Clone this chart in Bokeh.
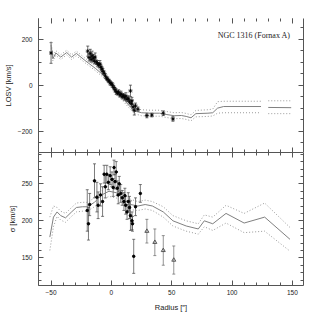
import math
from bokeh.plotting import figure
from bokeh.layouts import column
from bokeh.models import (FixedTicker, LinearAxis, Range1d, Whisker, ColumnDataSource,
                          TeeHead, Label, CustomJSTickFormatter)
from bokeh.embed import file_html
from bokeh.resources import INLINE

nan = float("nan")

# ---------------- data ----------------
# top panel: line-of-sight velocity, measured points
top_x = [-50, -19.6, -18.5, -17.5, -16.8, -16, -15, -14.2, -13.5, -12.5, -11.5, -10.5, -9.5,
         -8.7, -7.8, -7, -6, -5, -4, -3, -2, -1, 0, 1, 2, 3, 4, 5, 6, 7, 8, 9, 10, 11, 12,
         13, 14, 15, 15.8, 16.5, 17, 18, 19, 20, 22, 29.4, 33.5, 43, 51]
top_v = [140, 148, 120, 138, 112, 128, 118, 105, 122, 100, 95, 88, 92,
         79, 70, 60, 52, 40, 30, 25, 18, 10, 6, 0, -10, -20, -28, -35, -30, -42, -38, -50, -45, -55, -48,
         -62, -58, -72, -25, -80, -68, -95, -110, -90, -105, -132, -130, -122, -147]
top_e = [45, 22, 15, 18, 12, 20, 15, 12, 18, 10, 12, 10, 15,
         12, 10, 12, 10, 10, 8, 10, 8, 10, 8, 10, 8, 10, 12, 8, 10, 10, 12, 10, 8, 12, 15,
         10, 12, 10, 25, 12, 15, 12, 20, 12, 10, 10, 8, 10, 10]

# top panel: model band
tmod_x = [-50, -48.5, -46, -42, -37, -33, -29, -22, -13, -5, 2, 8, 14, 19, 25, 32, 40, 46, 52,
          58, 62, 66, 70, 80, 84, 88, 93, 124, 126.5, 130, 149]
tmod_mid = [175, 115, 140, 122, 142, 122, 138, 108, 72, 36, -18, -50, -85, -112, -120, -122, -122,
            -128, -133, -132, -136, -142, -124, -122, -120, -100, -93, -93, nan, -97, -98]
tmod_up = [190, 127, 150, 132, 152, 132, 148, 118, 82, 46, -8, -40, -75, -100, -107, -109, -109,
           -115, -120, -119, -123, -129, -110, -107, -104, -72, -70, -70, nan, -68, -68]
tmod_lo = [160, 105, 130, 112, 132, 112, 128, 98, 62, 26, -28, -60, -95, -124, -133, -135, -135,
           -141, -146, -145, -149, -155, -138, -136, -134, -122, -120, -120, nan, -124, -124]

# bottom panel: velocity dispersion, measured points
sig_x = [-20, -19, -18, -14, -12, -11, -9, -7.3, -6, -5, -3.8, -2.5, -1, 0.5, 1.5, 2.2, 3, 4,
         4.9, 5.7, 6.5, 7.7, 9, 10.4, 11.2, 11.8, 13, 14, 15, 15.8, 17.1, 17.5, 18.5, 20, 24]
sig_s = [214, 196, 222, 254, 232, 221, 235, 226, 263, 246, 263, 252, 261, 256, 245, 272, 253, 266,
         244, 235, 250, 237, 231, 226, 234, 221, 212, 226, 218, 207, 200, 196, 152, 219, 237]
sig_e = [28, 22, 15, 23, 20, 18, 15, 20, 12, 15, 12, 10, 12, 10, 12, 10, 10, 14,
         10, 12, 10, 12, 10, 12, 10, 12, 10, 12, 15, 20, 12, 10, 23, 12, 12]

# bottom panel: outer points (triangles)
tri_x = [29.4, 36, 43, 51.7]
tri_s = [186, 171, 160, 147]
tri_e = [16, 18, 20, 19]

# bottom panel: model band
bmod_x = [-51, -48, -45, -42, -38, -33, -29, -24, -20, -14, -8, -2, 4, 10, 16, 22, 28, 34, 43, 51,
          62, 72, 77, 84, 95, 110, 127, 148]
bmod_mid = [178, 205, 212, 207, 204, 212, 218, 219, 219, 225, 235, 240, 238, 230, 222, 220, 222,
            220, 212, 200, 193, 189, 200, 196, 210, 197, 205, 175]
bmod_up = [205, 220, 218, 213, 210, 218, 224, 225, 225, 231, 242, 247, 245, 237, 229, 226, 228,
           226, 219, 207, 200, 196, 208, 205, 221, 210, 224, 191]
bmod_lo = [160, 192, 206, 201, 198, 206, 212, 213, 213, 219, 228, 233, 231, 223, 215, 214, 216,
           214, 205, 193, 186, 182, 192, 187, 197, 184, 186, 159]

x_major = [-50, 0, 50, 100, 150]
x_minor = list(range(-60, 161, 10))
vy_major = [-200, 0, 200]
vy_minor = list(range(-300, 301, 50))
sy_major = [150, 200, 250]
sy_minor = list(range(110, 301, 10))

TITLE = "NGC 1316 (Fornax A)"
AX = "#555555"
GRAY = "#9a9a9a"
GRAY_MID = "#808080"
FONT = "Liberation Sans"


def style_axis(ax, ticker, labels=True):
    ax.ticker = ticker
    ax.major_tick_in = 5
    ax.major_tick_out = 0
    ax.minor_tick_in = 3
    ax.minor_tick_out = 0
    ax.axis_line_color = AX
    ax.major_tick_line_color = AX
    ax.minor_tick_line_color = AX
    ax.major_label_text_font = FONT
    ax.major_label_text_font_size = "6.5px"
    ax.major_label_text_color = "#222222"
    ax.axis_label_text_font = FONT
    ax.axis_label_text_font_size = "7.5px"
    ax.axis_label_text_font_style = "normal"
    ax.axis_label_text_color = "#222222"
    if not labels:
        ax.formatter = CustomJSTickFormatter(code="return ''")
        ax.major_label_text_font_size = "0px"
        ax.major_label_standoff = 0
        ax.axis_label_standoff = 0


def add_band(p, x, mid, up, lo):
    p.line(x, up, line_color=GRAY, line_width=1, line_dash="1 2")
    p.line(x, lo, line_color=GRAY, line_width=1, line_dash="1 2")
    p.line(x, mid, line_color=GRAY_MID, line_width=1)


def add_errors(p, x, y, e, color):
    src = ColumnDataSource(dict(x=x, lo=[a - b for a, b in zip(y, e)],
                                hi=[a + b for a, b in zip(y, e)]))
    w = Whisker(source=src, base="x", upper="hi", lower="lo", dimension="height",
                line_color=color, line_width=0.7,
                upper_head=TeeHead(size=3, line_color=color, line_width=0.7),
                lower_head=TeeHead(size=3, line_color=color, line_width=0.7))
    p.add_layout(w)


# ---------------- top panel ----------------
p1 = figure(width=320, height=152, x_range=Range1d(-60.4, 159.2), y_range=Range1d(-293, 290),
            output_backend="svg", toolbar_location=None,
            x_axis_location=None, y_axis_location=None,
            min_border_left=34, min_border_right=17, min_border_top=18, min_border_bottom=0)
p1.outline_line_color = None
p1.xgrid.visible = False
p1.ygrid.visible = False

ax = LinearAxis(axis_label="LOSV [km/s]")
style_axis(ax, FixedTicker(ticks=vy_major, minor_ticks=vy_minor))
ax.major_label_standoff = 6
ax.axis_label_standoff = 2
p1.add_layout(ax, "left")
ax = LinearAxis()
style_axis(ax, FixedTicker(ticks=vy_major, minor_ticks=vy_minor), labels=False)
p1.add_layout(ax, "right")
ax = LinearAxis()
style_axis(ax, FixedTicker(ticks=x_major, minor_ticks=x_minor), labels=False)
ax.axis_line_color = None
p1.add_layout(ax, "above")
ax = LinearAxis()
style_axis(ax, FixedTicker(ticks=x_major, minor_ticks=x_minor), labels=False)
p1.add_layout(ax, "below")

add_band(p1, tmod_x, tmod_mid, tmod_up, tmod_lo)
add_errors(p1, top_x, top_v, top_e, "#333333")
p1.scatter(top_x, top_v, marker="asterisk", size=4, line_color="black", line_width=0.8)

p1.add_layout(Label(x=148.3, y=216, text=TITLE, text_align="right", text_baseline="middle",
                    text_font="Liberation Serif", text_font_size="8px", text_color="#222222"))

# ---------------- bottom panel ----------------
p2 = figure(width=320, height=168, x_range=p1.x_range, y_range=Range1d(112.6, 292.3),
            output_backend="svg", toolbar_location=None,
            x_axis_location=None, y_axis_location=None,
            min_border_left=34, min_border_right=17, min_border_top=0, min_border_bottom=35)
p2.outline_line_color = None
p2.xgrid.visible = False
p2.ygrid.visible = False

ax = LinearAxis(axis_label="σ [km/s]")
style_axis(ax, FixedTicker(ticks=sy_major, minor_ticks=sy_minor))
ax.major_label_standoff = 6
ax.axis_label_standoff = 2
p2.add_layout(ax, "left")
ax = LinearAxis()
style_axis(ax, FixedTicker(ticks=sy_major, minor_ticks=sy_minor), labels=False)
p2.add_layout(ax, "right")
ax = LinearAxis()
style_axis(ax, FixedTicker(ticks=x_major, minor_ticks=x_minor), labels=False)
p2.add_layout(ax, "above")
ax = LinearAxis(axis_label="Radius [″]")
style_axis(ax, FixedTicker(ticks=x_major, minor_ticks=x_minor))
ax.major_label_standoff = 4
ax.axis_label_standoff = 5
p2.add_layout(ax, "below")

add_band(p2, bmod_x, bmod_mid, bmod_up, bmod_lo)
add_errors(p2, sig_x, sig_s, sig_e, "#444444")
p2.scatter(sig_x, sig_s, marker="circle", size=2.5, line_color="black", fill_color="black")
add_errors(p2, tri_x, tri_s, tri_e, "#666666")
p2.scatter(tri_x, tri_s, marker="triangle", size=4, line_color="#555555", fill_color=None)

layout = column(p1, p2, spacing=0)
open("out.html", "w").write(file_html(layout, INLINE))
